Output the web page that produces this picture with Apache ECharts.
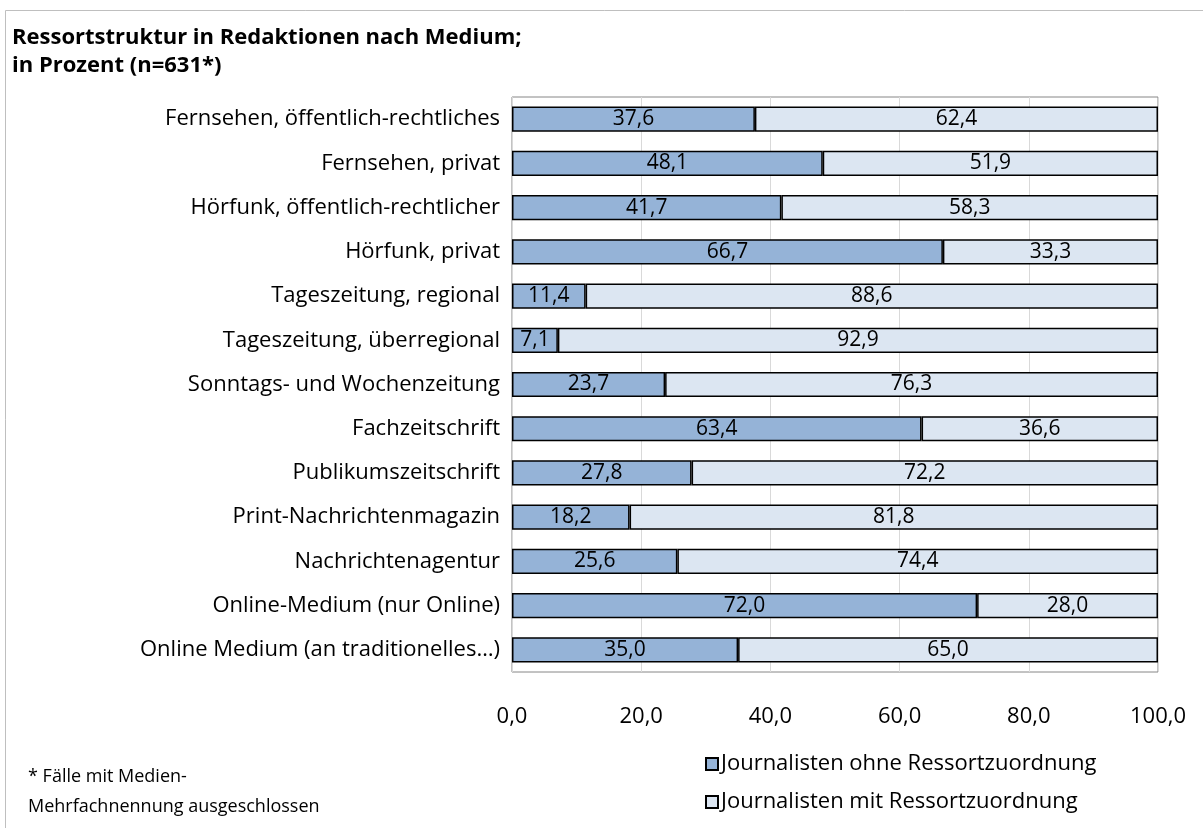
<!DOCTYPE html>
<html>
<head>
<meta charset="utf-8">
<script src="https://cdn.jsdelivr.net/npm/echarts@6/dist/echarts.min.js"></script>
<style>
  html, body { margin: 0; padding: 0; background: #fff; }
  #chart { width: 1203px; height: 828px; }
</style>
</head>
<body>
<div id="chart"></div>
<script>
const categories = [
    'Fernsehen, öffentlich-rechtliches',
    'Fernsehen, privat',
    'Hörfunk, öffentlich-rechtlicher',
    'Hörfunk, privat',
    'Tageszeitung, regional',
    'Tageszeitung, überregional',
    'Sonntags- und Wochenzeitung',
    'Fachzeitschrift',
    'Publikumszeitschrift',
    'Print-Nachrichtenmagazin',
    'Nachrichtenagentur',
    'Online-Medium (nur Online)',
    'Online Medium (an traditionelles…)'
]
const ohneRessort = [37.6, 48.1, 41.7, 66.7, 11.4, 7.1, 23.7, 63.4, 27.8, 18.2, 25.6, 72.0, 35.0]
const mitRessort = [62.4, 51.9, 58.3, 33.3, 88.6, 92.9, 76.3, 36.6, 72.2, 81.8, 74.4, 28.0, 65.0]
const seriesNames = ['Journalisten ohne Ressortzuordnung', 'Journalisten mit Ressortzuordnung']

const font = '"Open Sans", sans-serif'
const fmt = v => v.toFixed(1).replace('.', ',')

const barLabel = {
    show: true,
    position: 'inside',
    color: '#000',
    fontFamily: font,
    fontSize: 21,
    formatter: p => fmt(p.value)
}

const chart = echarts.init(document.getElementById('chart'))
chart.setOption({
    backgroundColor: '#fff',
    animation: false,
    textStyle: { fontFamily: font },
    graphic: [
        {
            type: 'rect',
            shape: { x: 5.5, y: 10.5, width: 1210, height: 830 },
            style: { fill: 'none', stroke: '#bfbfbf', lineWidth: 1 }
        },
        {
            type: 'text', left: 12, top: 24,
            style: { text: 'Ressortstruktur in Redaktionen nach Medium;\nin Prozent (n=631*)', font: 'bold 22px ' + font, fill: '#000', lineHeight: 28 }
        },
        {
            type: 'text', left: 28, top: 762,
            style: { text: '* Fälle mit Medien-\nMehrfachnennung ausgeschlossen', font: '18px ' + font, fill: '#000', lineHeight: 30 }
        }
    ],
    legend: {
        orient: 'vertical',
        left: 700,
        top: 748,
        itemGap: 16,
        itemWidth: 12,
        itemHeight: 12,
        icon: 'rect',
        textStyle: { fontFamily: font, fontSize: 22, color: '#000', padding: [0, 0, 0, -2] },
        data: seriesNames
    },
    grid: {
        left: 512, right: 45, top: 97, bottom: 156,
        show: true, borderColor: '#868686', borderWidth: 1
    },
    xAxis: {
        type: 'value',
        min: 0, max: 100, interval: 20,
        axisLine: { show: false },
        axisTick: { show: false },
        splitLine: { lineStyle: { color: '#d9d9d9' } },
        axisLabel: { color: '#000', fontFamily: font, fontSize: 22, margin: 34, formatter: v => fmt(v) }
    },
    yAxis: {
        type: 'category',
        inverse: true,
        data: categories,
        axisLine: { show: false },
        axisTick: { show: false },
        axisLabel: { color: '#000', fontFamily: font, fontSize: 22, margin: 12 }
    },
    series: [
        {
            name: seriesNames[0], type: 'bar', stack: 'all', barWidth: '57%',
            data: ohneRessort,
            itemStyle: { color: '#95b3d7', borderColor: '#000', borderWidth: 1.5 },
            label: barLabel
        },
        {
            name: seriesNames[1], type: 'bar', stack: 'all', barWidth: '57%',
            data: mitRessort,
            itemStyle: { color: '#dce6f2', borderColor: '#000', borderWidth: 1.5 },
            label: barLabel
        }
    ]
})
window.addEventListener('resize', () => chart.resize())
</script>
</body>
</html>
